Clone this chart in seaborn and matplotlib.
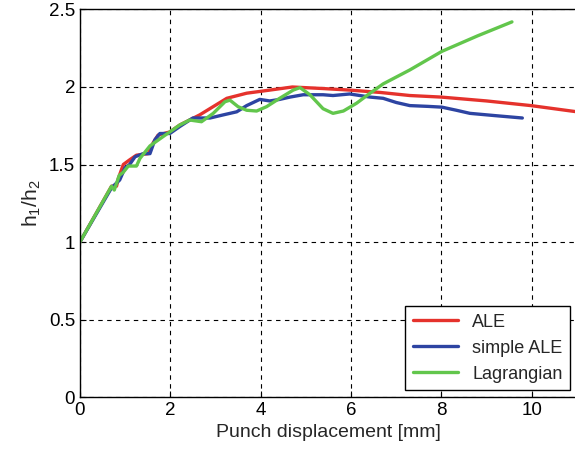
import matplotlib
matplotlib.use("Agg")
import matplotlib.pyplot as plt
import seaborn as sns
import pandas as pd

sns.set_style("ticks")
plt.rcParams["font.family"] = ["Liberation Sans", "DejaVu Sans"]
plt.rcParams["mathtext.default"] = "regular"

# ALE
ale_x = [0, 0.7, 0.81, 0.85, 0.96, 1.1, 1.25, 1.51, 1.62, 1.73, 1.99, 2.21,
         2.65, 3.25, 3.69, 4.2, 4.7, 5.38, 5.97, 6.64, 7.3, 7.99, 9.0, 9.98, 11.0]
ale_y = [1.0, 1.36, 1.36, 1.41, 1.50, 1.53, 1.56, 1.57, 1.64, 1.69, 1.71, 1.755,
         1.82, 1.927, 1.96, 1.98, 2.0, 1.99, 1.98, 1.965, 1.945, 1.935, 1.91, 1.88, 1.84]

# simple ALE
sale_x = [0, 0.7, 0.88, 1.0, 1.1, 1.22, 1.4, 1.55, 1.66, 1.77, 1.99, 2.21,
          2.5, 2.88, 3.17, 3.47, 3.69, 3.98, 4.2, 4.42, 4.65, 4.94, 5.38, 5.6,
          5.97, 6.42, 6.71, 7.0, 7.3, 7.7, 8.01, 8.33, 8.63, 9.2, 9.79]
sale_y = [1.0, 1.35, 1.40, 1.48, 1.50, 1.55, 1.57, 1.57, 1.66, 1.70, 1.70, 1.745,
          1.80, 1.80, 1.82, 1.84, 1.88, 1.92, 1.91, 1.92, 1.935, 1.95, 1.95, 1.945,
          1.955, 1.935, 1.927, 1.90, 1.88, 1.875, 1.87, 1.85, 1.83, 1.815, 1.80]

# Lagrangian
lag_x = [0, 0.7, 0.76, 0.87, 0.96, 1.07, 1.25, 1.33, 1.55, 1.84, 2.21, 2.43,
         2.69, 2.95, 3.21, 3.32, 3.5, 3.69, 3.91, 4.13, 4.42, 4.72, 4.87,
         5.09, 5.38, 5.6, 5.83, 6.12, 6.42, 6.71, 7.3, 8.01, 8.8, 9.56]
lag_y = [1.0, 1.36, 1.335, 1.43, 1.45, 1.49, 1.49, 1.54, 1.62, 1.68, 1.755, 1.787,
         1.776, 1.83, 1.905, 1.915, 1.873, 1.85, 1.845, 1.873, 1.927, 1.98, 1.996,
         1.95, 1.86, 1.83, 1.845, 1.895, 1.96, 2.02, 2.11, 2.23, 2.33, 2.42]

series = ["ALE", "simple ALE", "Lagrangian"]
colors = ["#e5322c", "#2d44a2", "#62c64c"]

df = pd.concat([
    pd.DataFrame({"x": ale_x, "y": ale_y, "method": series[0]}),
    pd.DataFrame({"x": sale_x, "y": sale_y, "method": series[1]}),
    pd.DataFrame({"x": lag_x, "y": lag_y, "method": series[2]}),
])

fig = plt.figure(figsize=(5.75, 4.63), dpi=100)
ax = fig.add_axes([0.139, 0.1425, 0.8645, 0.837])

sns.lineplot(data=df, x="x", y="y", hue="method", palette=colors,
             linewidth=2.4, ax=ax, sort=False, estimator=None)
for ln in ax.lines:
    ln.set_solid_joinstyle("round")

ax.set_xlim(0, 11)
ax.set_ylim(0, 2.5)
ax.set_xticks([0, 2, 4, 6, 8, 10])
ax.set_yticks([0, 0.5, 1, 1.5, 2, 2.5])
ax.set_yticklabels(["0", "0.5", "1", "1.5", "2", "2.5"])
ax.grid(True, color="black", linestyle=(0, (4, 4)), linewidth=0.8)
ax.tick_params(direction="in", labelsize=13.5, length=4, colors="black")
for s in ax.spines.values():
    s.set_color("black")
    s.set_linewidth(1.0)

ax.set_xlabel("Punch displacement [mm]", fontsize=14)
ax.set_ylabel("h$_1$/h$_2$", fontsize=15)

leg = ax.legend(loc="lower right", fontsize=13, frameon=True, fancybox=False,
                edgecolor="black", framealpha=1, borderaxespad=0.4,
                handlelength=2.5, title=None)
leg.get_frame().set_linewidth(1.0)

fig.savefig("out.png", dpi=100)
